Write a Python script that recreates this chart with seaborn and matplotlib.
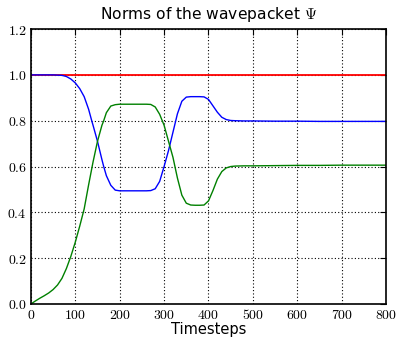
import numpy as np
import pandas as pd
import seaborn as sns
import matplotlib
matplotlib.use("Agg")
import matplotlib.pyplot as plt
from matplotlib.ticker import FuncFormatter, MultipleLocator

timesteps = [0, 10, 20, 30, 40, 50, 60, 70, 80, 90,
             100, 110, 120, 130, 137, 140, 150, 160, 164, 170, 180, 190,
             200, 210, 220, 230, 240, 250, 260, 270, 280, 290,
             300, 310, 320, 330, 340, 350, 360, 370, 380, 390,
             400, 410, 420, 430, 440, 450, 460, 480, 500, 550,
             600, 650, 700, 750, 800]

norm_total = [1.0] * len(timesteps)

norm_upper = [1.000, 1.000, 1.000, 1.000, 1.000, 1.000, 0.999, 0.998, 0.993, 0.982,
              0.965, 0.940, 0.905, 0.850, 0.800, 0.780, 0.710, 0.630, 0.600, 0.560, 0.518, 0.497,
              0.494, 0.494, 0.494, 0.494, 0.494, 0.494, 0.494, 0.495, 0.503, 0.535,
              0.600, 0.670, 0.750, 0.830, 0.885, 0.903, 0.905, 0.905, 0.905, 0.904,
              0.893, 0.865, 0.837, 0.815, 0.805, 0.801, 0.800, 0.799, 0.799, 0.798,
              0.798, 0.797, 0.797, 0.797, 0.797]

norm_lower = [0.000, 0.013, 0.025, 0.036, 0.048, 0.063, 0.083, 0.112, 0.155, 0.208,
              0.270, 0.340, 0.415, 0.520, 0.590, 0.620, 0.710, 0.780, 0.800, 0.835, 0.864, 0.870,
              0.872, 0.872, 0.872, 0.872, 0.872, 0.872, 0.872, 0.871, 0.860, 0.828,
              0.780, 0.710, 0.640, 0.550, 0.475, 0.440, 0.432, 0.431, 0.431, 0.432,
              0.450, 0.495, 0.545, 0.578, 0.594, 0.600, 0.602, 0.603, 0.603, 0.604,
              0.605, 0.605, 0.606, 0.606, 0.606]

sns.set_style("white")
plt.rcParams['font.family'] = ['DejaVu Sans']
plt.rcParams['mathtext.fontset'] = 'cm'
plt.rcParams['text.color'] = 'black'
plt.rcParams['axes.labelcolor'] = 'black'

fig = plt.figure(figsize=(3.96, 3.38), dpi=100)
ax = fig.add_axes([0.078, 0.1006, 0.897, 0.8134])

sns.lineplot(x=timesteps, y=norm_total, color="#ff0000", linewidth=1.3, ax=ax)
sns.lineplot(x=timesteps, y=norm_upper, color="#0000ff", linewidth=1.0, ax=ax)
sns.lineplot(x=timesteps, y=norm_lower, color="#008000", linewidth=1.0, ax=ax)

ax.set_xlim(0, 800)
ax.set_ylim(0, 1.2)
ax.xaxis.set_major_locator(MultipleLocator(100))
ax.yaxis.set_major_locator(MultipleLocator(0.2))
ax.xaxis.set_major_formatter(FuncFormatter(lambda v, p: f"${v:.0f}$"))
ax.yaxis.set_major_formatter(FuncFormatter(lambda v, p: f"${v:.1f}$"))
ax.tick_params(direction="in", top=True, right=True, length=4, width=0.8,
               labelsize=10, pad=3, colors="black")
for s in ax.spines.values():
    s.set_color("black")
    s.set_linewidth(1.2)
ax.grid(True, color="black", linestyle=(0, (1, 2)), linewidth=0.8)

ax.set_title(r"Norms of the wavepacket $\Psi$", fontsize=11.2, pad=7, color="black")
ax.set_xlabel("Timesteps", fontsize=10.5, labelpad=0)
ax.set_ylabel("")

fig.savefig("out.png", dpi=100)
